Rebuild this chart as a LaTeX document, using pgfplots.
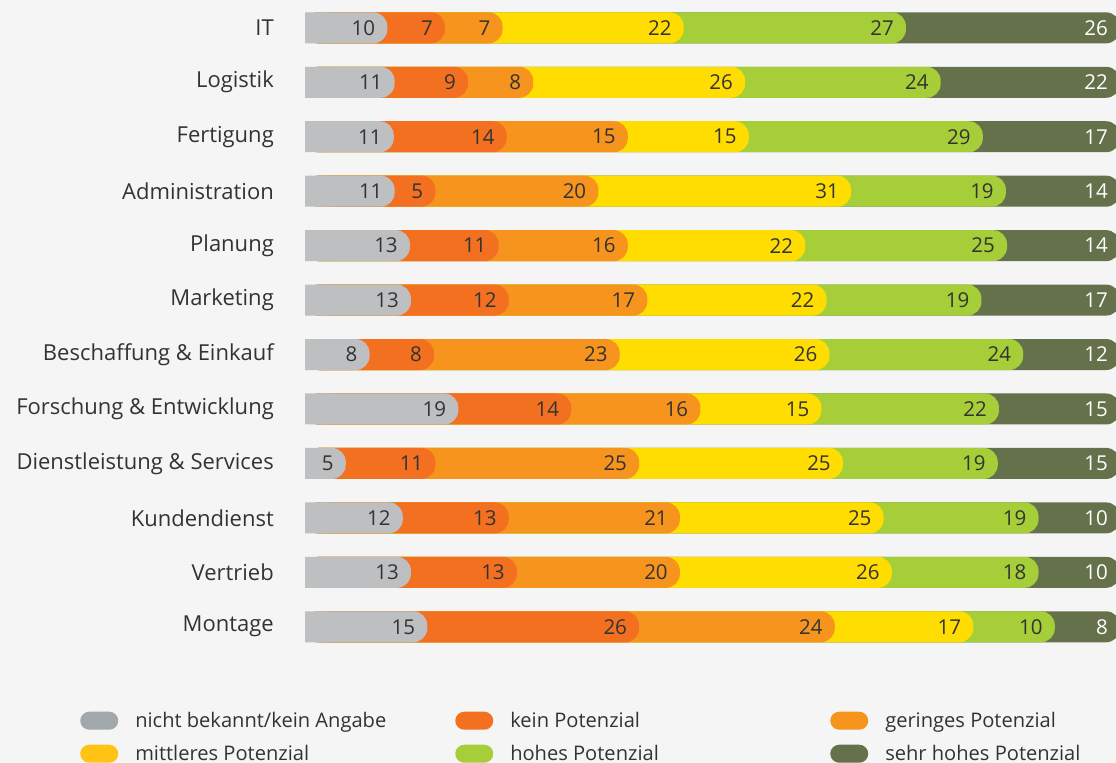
\documentclass[border=0pt]{standalone}
\usepackage{pgfplots}
\pgfplotsset{compat=1.18}
\usepackage{pgfplotstable}
\usepackage{fontspec}
\setmainfont{Open Sans}[Ligatures=NoCommon]
\definecolor{bg}{HTML}{F4F5F4}
\definecolor{cA}{HTML}{BEBFC1}
\definecolor{cB}{HTML}{F37021}
\definecolor{cC}{HTML}{F7941D}
\definecolor{cD}{HTML}{FFDD00}
\definecolor{cE}{HTML}{A6CE39}
\definecolor{cF}{HTML}{65714B}
\definecolor{lA}{HTML}{A0A8AB}
\definecolor{lD}{HTML}{FFC315}
\definecolor{txt}{HTML}{333333}

\pgfplotstableread{
idx a b c d e f
0 10 7 7 22 27 26
1 11 9 8 26 24 22
2 11 14 15 15 29 17
3 11 5 20 31 19 14
4 13 11 16 22 25 14
5 13 12 17 22 19 17
6 8 8 23 26 24 12
7 19 14 16 15 22 15
8 5 11 25 25 19 15
9 12 13 21 25 19 10
10 13 13 20 26 18 10
11 15 26 24 17 10 8
}\data

\newcommand{\tot}{(\thisrow{a}+\thisrow{b}+\thisrow{c}+\thisrow{d}+\thisrow{e}+\thisrow{f})}
\newcommand{\fs}{\fontsize{20.5bp}{24bp}\selectfont}
\newcommand{\fl}{\fontsize{22bp}{26bp}\selectfont}
\newcommand{\fg}{\fontsize{20.1bp}{24bp}\selectfont}

\pgfplotsset{
  seg/.style={xbar, bar width=31bp, bar shift=0pt, draw=none, forget plot,
    rounded corners=14bp, point meta=explicit,
    nodes near coords,
    every node near coord/.append style={anchor=east, xshift=-12bp, inner sep=0pt, font=\fs, text=txt, rounded corners=0pt}},
  pill legend/.style={legend image code/.code={\fill[##1, draw=none, rounded corners=9bp] (0bp,-9bp) rectangle (38bp,9bp);}},
}

\begin{document}
\begin{tikzpicture}
\fill[bg] (0,0) rectangle (1116bp,763bp);
\begin{axis}[
  at={(305bp,109bp)}, anchor=south west,
  scale only axis, width=815bp, height=653.4bp,
  xmin=5, xmax=105, ymin=-0.5, ymax=11.5, y dir=reverse,
  axis line style={draw=none}, tick style={draw=none},
  xtick=\empty,
  ytick={0,...,11},
  yticklabels={IT, Logistik, Fertigung, Administration, Planung, Marketing, Beschaffung \& Einkauf, Forschung \& Entwicklung, Dienstleistung \& Services, Kundendienst, Vertrieb, Montage},
  yticklabel style={font=\fl, text=txt, inner sep=0pt, xshift=-31bp},
  /pgf/number format/assume math mode=true,
  legend columns=3,
  legend style={draw=none, fill=none, inner sep=0pt, font=\fg, text=txt,
    at={(axis description cs:-0.276,-0.088)}, anchor=north west,
    nodes={inner sep=0pt},
    row sep=15bp,
    /tikz/every odd column/.append style={column sep=17bp},
    /tikz/every even column/.append style={column sep=20bp}},
  legend cell align=left,
]
\addlegendimage{pill legend, fill=lA}
\addlegendentry{\makebox[300bp][l]{nicht bekannt/kein Angabe}}
\addlegendimage{pill legend, fill=cB}
\addlegendentry{\makebox[300bp][l]{kein Potenzial}}
\addlegendimage{pill legend, fill=cC}
\addlegendentry{geringes Potenzial}
\addlegendimage{pill legend, fill=lD}
\addlegendentry{\makebox[300bp][l]{mittleres Potenzial}}
\addlegendimage{pill legend, fill=cE}
\addlegendentry{\makebox[300bp][l]{hohes Potenzial}}
\addlegendimage{pill legend, fill=cF}
\addlegendentry{sehr hohes Potenzial}

\addplot[seg, fill=cF, every node near coord/.append style={text=white}] table[x expr={5+100*(\thisrow{a}+\thisrow{b}+\thisrow{c}+\thisrow{d}+\thisrow{e}+\thisrow{f})/\tot}, y=idx, meta=f]{\data};
\addplot[seg, fill=cE] table[x expr={5+100*(\thisrow{a}+\thisrow{b}+\thisrow{c}+\thisrow{d}+\thisrow{e})/\tot}, y=idx, meta=e]{\data};
\addplot[seg, fill=cD] table[x expr={5+100*(\thisrow{a}+\thisrow{b}+\thisrow{c}+\thisrow{d})/\tot}, y=idx, meta=d]{\data};
\addplot[seg, fill=cC] table[x expr={5+100*(\thisrow{a}+\thisrow{b}+\thisrow{c})/\tot}, y=idx, meta=c]{\data};
\addplot[seg, fill=cB] table[x expr={5+100*(\thisrow{a}+\thisrow{b})/\tot}, y=idx, meta=b]{\data};
\addplot[seg, fill=cA] table[x expr={5+100*(\thisrow{a})/\tot}, y=idx, meta=a]{\data};
% square left edge of each bar
\addplot[xbar, bar width=31bp, bar shift=0pt, draw=none, fill=cA, forget plot] table[x expr={8}, y=idx]{\data};
\end{axis}
\pgfresetboundingbox
\path (0,0) rectangle (1116bp,763bp);
\end{tikzpicture}
\end{document}
